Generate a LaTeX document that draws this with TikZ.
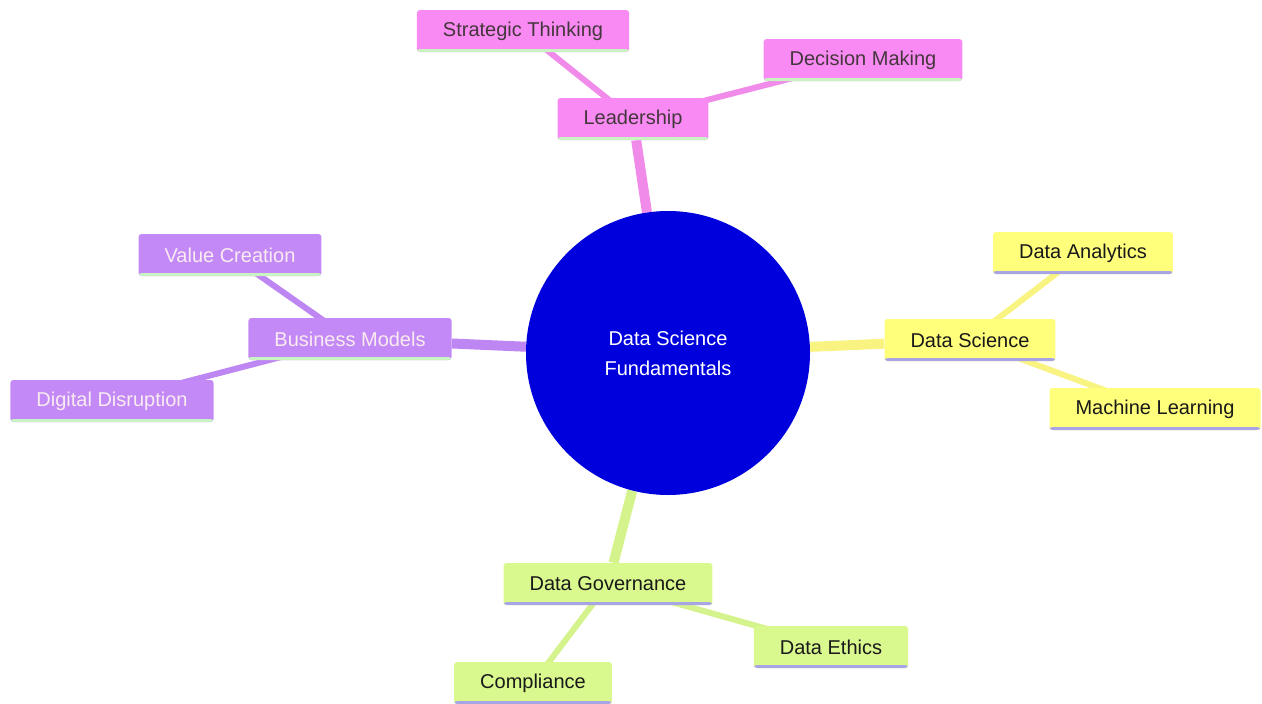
\documentclass[tikz,border=0pt]{standalone}
\usepackage{fontspec}
\setmainfont{Liberation Sans}
\usetikzlibrary{backgrounds}

\definecolor{pinkbox}{HTML}{F98AF3}
\definecolor{pinkline}{HTML}{F18BEA}
\definecolor{yellowbox}{HTML}{FFFF7C}
\definecolor{yellowline}{HTML}{F9F381}
\definecolor{purplebox}{HTML}{C38AF7}
\definecolor{purpleline}{HTML}{BE86F2}
\definecolor{greenbox}{HTML}{D9F88E}
\definecolor{greenline}{HTML}{D5F38C}
\definecolor{rootblue}{HTML}{0000DC}
\definecolor{lavender}{HTML}{A9A5E4}
\definecolor{mint}{HTML}{C9F3C2}

\begin{document}
\begin{tikzpicture}[x=1pt, y=-1pt,
    topic/.style={rounded corners=3pt, minimum height=42pt, inner xsep=26pt,
        font=\fontsize{20}{24}\selectfont},
    edgeline/.style={path picture={\fill[#1] (path picture bounding box.south west) rectangle ([yshift=3pt]path picture bounding box.south east);}},
    pinktopic/.style={topic, fill=pinkbox, text=black!85!magenta, edgeline=mint},
    yellowtopic/.style={topic, fill=yellowbox, text=black!90, edgeline=lavender},
    purpletopic/.style={topic, fill=purplebox, text=white!92!purple, edgeline=mint},
    greentopic/.style={topic, fill=greenbox, text=black!90, edgeline=lavender},
    branch/.style={line width=10pt},
    twig/.style={line width=6pt}]
  \useasboundingbox (0,0) rectangle (1262,704);

  % centre
  \node[circle, fill=rootblue, minimum size=284pt, text=white, align=center,
        font=\fontsize{20}{30}\selectfont] (root) at (668,353) {Data Science\\Fundamentals};

  % leadership
  \node[pinktopic] (lead) at (633,119) {Leadership};
  \node[pinktopic] (strat) at (523,31) {Strategic Thinking};
  \node[pinktopic] (decide) at (863,60) {Decision Making};

  % data science
  \node[yellowtopic] (dsci) at (970,340) {Data Science};
  \node[yellowtopic] (analytics) at (1083,253) {Data Analytics};
  \node[yellowtopic] (ml) at (1155,409) {Machine Learning};

  % business models
  \node[purpletopic] (business) at (350,339) {Business Models};
  \node[purpletopic] (value) at (230,255) {Value Creation};
  \node[purpletopic] (disrupt) at (112,401) {Digital Disruption};

  % data governance
  \node[greentopic] (govern) at (608,584) {Data Governance};
  \node[greentopic] (ethics) at (831,647) {Data Ethics};
  \node[greentopic] (comply) at (533,683) {Compliance};

  \begin{pgfonlayer}{background}
    \draw[branch, pinkline] (root) -- (lead);
    \draw[twig, pinkline] (lead.center) -- (strat.center);
    \draw[twig, pinkline] (lead.center) -- (decide.center);
    \draw[branch, yellowline] (root) -- (dsci);
    \draw[twig, yellowline] (dsci.center) -- (analytics.center);
    \draw[twig, yellowline] (dsci.center) -- (ml.center);
    \draw[branch, purpleline] (root) -- (business);
    \draw[twig, purpleline] (business.center) -- (value.center);
    \draw[twig, purpleline] (business.center) -- (disrupt.center);
    \draw[branch, greenline] (root) -- (govern);
    \draw[twig, greenline] (govern.center) -- (ethics.center);
    \draw[twig, greenline] (govern.center) -- (comply.center);
  \end{pgfonlayer}
\end{tikzpicture}
\end{document}
